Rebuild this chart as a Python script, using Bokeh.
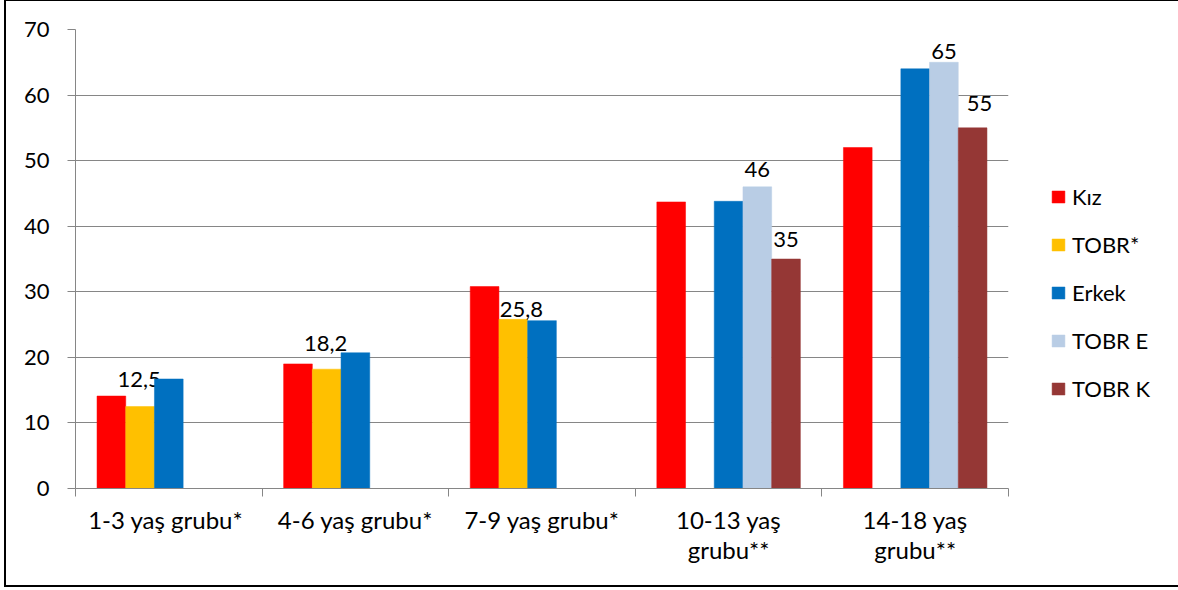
from bokeh.plotting import figure
from bokeh.models import (ColumnDataSource, Range1d, FixedTicker, Legend, LegendItem,
                          InlineStyleSheet)
from bokeh.core.properties import value
from bokeh.embed import file_html
from bokeh.resources import INLINE

# Age groups and series values (percent)
categories = ["1-3  yaş grubu*", "4-6 yaş grubu*", "7-9 yaş grubu*",
              "10-13 yaş\ngrubu**", "14-18 yaş\ngrubu**"]
kiz = [14.1, 19.0, 30.8, 43.7, 52.0]
tobr = [12.5, 18.2, 25.8, None, None]
erkek = [16.7, 20.7, 25.6, 43.8, 64.0]
tobr_e = [None, None, None, 46.0, 65.0]
tobr_k = [None, None, None, 35.0, 55.0]

series_names = ["Kız", "TOBR*", "Erkek", "TOBR E", "TOBR K"]
series_values = [kiz, tobr, erkek, tobr_e, tobr_k]
series_colors = ["#FF0000", "#FFC000", "#0070C0", "#B9CDE5", "#953735"]
labelled = [False, True, False, True, True]

y_ticks = [0, 10, 20, 30, 40, 50, 60, 70]

FONT = "Lato"
GRID = "#868686"

# pixel nudges (right, up) for the value labels, keyed by (series, category)
label_nudge = {
    (1, 0): (-1, 27), (1, 1): (-1, 26), (1, 2): (8, 10),
    (3, 3): (0, 17), (3, 4): (0, 11),
    (4, 3): (0, 20), (4, 4): (7, 24),
}

p = figure(width=1178, height=590, output_backend="svg", toolbar_location=None,
           x_range=Range1d(0, 5), y_range=Range1d(0, 70),
           frame_width=933, frame_height=459,
           min_border_left=75, min_border_top=29, min_border_right=170,
           min_border_bottom=102)
p.outline_line_color = None
p.background_fill_color = "white"
p.border_fill_color = "white"

n_series = len(series_names)
bar_w = 1.0 / (n_series + 1.5)

legend_items = []
for j, (name, vals, col) in enumerate(zip(series_names, series_values, series_colors)):
    xs, tops, texts, xo, yo = [], [], [], [], []
    for i, v in enumerate(vals):
        if v is None:
            continue
        xs.append(i + 0.5 + (j - (n_series - 1) / 2) * bar_w)
        tops.append(v)
        texts.append(("%g" % v).replace(".", ","))
        dx, dy = label_nudge.get((j, i), (0, 14))
        xo.append(dx)
        yo.append(-dy)
    src = ColumnDataSource(dict(x=xs, top=tops, text=texts, xo=xo, yo=yo))
    r = p.vbar(x="x", top="top", bottom=0, width=bar_w, source=src,
               fill_color=col, line_color=col, line_width=0.5)
    legend_items.append(LegendItem(label=name, renderers=[r]))
    if labelled[j]:
        p.text(x="x", y="top", text="text", source=src, x_offset="xo", y_offset="yo",
               text_align="center", text_baseline="alphabetic",
               text_font=value(FONT), text_font_size="22px", text_color="#000000")

# axes
p.xgrid.visible = False
p.ygrid.grid_line_color = GRID
p.ygrid.grid_line_width = 1
p.yaxis.ticker = FixedTicker(ticks=y_ticks)
p.yaxis.axis_line_color = GRID
p.yaxis.major_tick_line_color = GRID
p.yaxis.major_tick_out = 8
p.yaxis.major_tick_in = 0
p.yaxis.minor_tick_line_color = None
p.yaxis.major_label_standoff = 18
p.yaxis.major_label_text_font = FONT
p.yaxis.major_label_text_font_size = "22px"
p.yaxis.major_label_text_color = "#000000"

centers = [i + 0.5 for i in range(len(categories))]
p.xaxis.ticker = FixedTicker(ticks=centers, minor_ticks=list(range(len(categories) + 1)))
p.xaxis.major_label_overrides = {c: lab for c, lab in zip(centers, categories)}
p.xaxis.axis_line_color = GRID
p.xaxis.major_tick_line_color = None
p.xaxis.major_tick_out = 0
p.xaxis.major_tick_in = 0
p.xaxis.minor_tick_line_color = GRID
p.xaxis.minor_tick_out = 8
p.xaxis.minor_tick_in = 0
p.xaxis.major_label_standoff = 8
p.xaxis.major_label_text_font = FONT
p.xaxis.major_label_text_font_size = "24px"
p.xaxis.major_label_text_color = "#000000"
p.xaxis.major_label_text_line_height = 1.05

legend = Legend(items=legend_items, location=(42, 86), orientation="vertical",
                glyph_width=16, glyph_height=15, label_standoff=6,
                label_text_font=FONT, label_text_font_size="22px",
                label_text_color="#000000", label_height=25, spacing=21,
                padding=0, margin=0, border_line_color=None,
                background_fill_alpha=0)
p.add_layout(legend, "right")

# thin black frame round the whole chart; keep repeated spaces in labels
p.stylesheets = [InlineStyleSheet(css="""
:host { position: relative; white-space: pre; }
:host::after {
  content: ""; position: absolute; left: 4px; top: -1px; right: 1px; bottom: 3px;
  border: 2px solid #000000; pointer-events: none; z-index: 10;
}
""")]

open("out.html", "w").write(file_html(p, INLINE))
